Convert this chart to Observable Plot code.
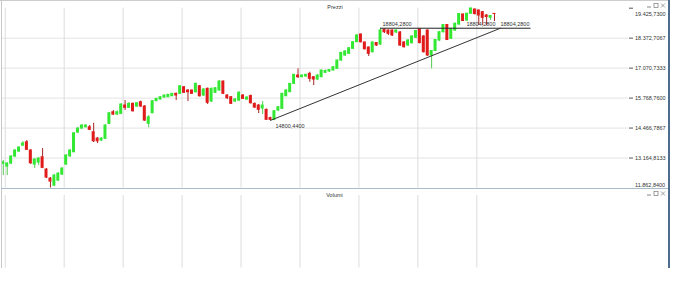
<!DOCTYPE html>
<html><head><meta charset="utf-8">
<script src="https://cdn.jsdelivr.net/npm/d3@7"></script>
<script src="https://cdn.jsdelivr.net/npm/@observablehq/plot@0.6"></script>
<style>
html,body{margin:0;padding:0;background:#fff;}
#wrap{position:relative;width:681px;height:283px;overflow:hidden;font-family:"Liberation Sans",Arial,sans-serif;}
#top,#bot{position:absolute;left:0;}
#top{top:0;} #bot{top:188px;}
.ln{position:absolute;}
.ic{position:absolute;left:645px;}
</style></head><body>
<div id="wrap">
  <div id="top"></div>
  <div id="bot"></div>
  <div class="ln" style="left:0;top:0;width:669px;height:1px;background:#cdcdcd"></div>
  <div class="ln" style="left:1px;top:0;width:1px;height:268px;background:#c8c8c8"></div>
  <div class="ln" style="left:668px;top:0;width:2px;height:268px;background:#4d6d8e"></div>
  <div class="ln" style="left:1px;top:188px;width:667px;height:1px;background:#a9bacb"></div>
  <svg class="ic" style="top:1px" width="22" height="8"><line x1="2" y1="6" x2="6" y2="6" stroke="#888" stroke-width="1"/><rect x="9" y="2.5" width="4" height="4" fill="none" stroke="#888" stroke-width="0.8"/><path d="M16 2.5L20 6.5M20 2.5L16 6.5" stroke="#888" stroke-width="0.8"/></svg>
  <svg class="ic" style="top:189px" width="22" height="8"><line x1="2" y1="6" x2="6" y2="6" stroke="#888" stroke-width="1"/><rect x="9" y="2.5" width="4" height="4" fill="none" stroke="#888" stroke-width="0.8"/><path d="M16 2.5L20 6.5M20 2.5L16 6.5" stroke="#888" stroke-width="0.8"/></svg>
</div>
<script>
// ---- data ----
const opens = [12911,12793,12924,13228,13445,13706,13850,13489,12880,12967,13198,12663,12272,11967,12185,12446,12880,13241,13415,14271,14445,14502,14502,14284,14011,13924,13998,14650,15154,15054,15084,15445,15345,15519,15402,15589,15402,14650,15110,15632,15706,15793,15806,15849,15954,15954,16241,16097,16097,16023,16284,15880,16171,15619,15997,16097,16488,15880,15806,15619,15662,15880,15706,15858,15519,15445,15315,15258,14901,14815,15228,15302,15849,16023,16388,16749,16675,16706,16823,16675,16575,16675,16867,16923,16967,17040,17401,17619,17692,17910,18197,18531,18184,17966,17762,18162,18097,18736,18705,18705,18618,18618,18184,18053,18153,18388,18749,18444,18705,17619,17814,18271,18631,18944,18345,18705,18966,19401,19140,19431,19618,19575,19501,19357,19257,19427];
const highs = [13054,12967,13272,13532,13663,13880,13924,13532,13141,13185,13576,12706,12315,12446,12533,12750,13315,13532,14271,14489,14619,14619,14576,14676,14054,14054,14619,15141,15228,15206,15532,15662,15576,15554,15576,15641,15445,15010,15662,15749,15836,15902,15923,15967,15988,16314,16271,16141,16119,16423,16314,16184,16206,16206,16228,16532,16510,15923,15836,15749,16053,15923,15836,15902,15554,15489,15619,15293,14936,15228,15402,15967,16141,16401,16793,17040,16771,16793,16893,16706,16793,16988,16988,17010,17140,17423,17749,17836,17966,18227,18531,18553,18205,17988,18205,18184,18804.28,18771,18727,18727,18727,18662,18227,18314,18488,18705,18771,18488,18727,17836,18314,18662,18966,18966,18790,19031,19444,19423,19466,19674.68,19640,19596,19531,19401,19357,19428];
const lows = [12402,12402,12880,13185,13402,13663,13489,12880,12706,12837,12706,12272,11862.84,11924,12141,12402,12837,13185,13402,14228,14402,14467,14358,13837,13793,13880,13967,14619,15010,15010,15054,15228,15315,15162,15358,15358,14749,14476,15097,15619,15684,15771,15793,15836,15662,15923,15967,15619,15923,15988,15815,15836,15489,15576,15967,16075,15923,15706,15489,15576,15619,15706,15662,15510,15315,15097,15054,14815,14800.44,14810,15184,15271,15836,16010,16358,16619,16662,16684,16458,16314,16532,16662,16836,16880,16945,17010,17358,17575,17662,17879,18184,18162,17858,17575,17727,18010,18053,18575,18488,18444,18575,18010,17945,18010,18118,18357,18118,17727,17575,17040,17792,18227,18597,18271,18314,18662,18923,19097,19097,19401,19379,18923,18923,18923,19140,19097];
const closes = [12980,12924,13228,13489,13619,13793,13519,12937,13098,13141,12737,12315,12141,12402,12489,12706,13272,13489,14241,14445,14576,14576,14389,13893,13893,14011,14576,15110,15054,15154,15489,15345,15519,15197,15545,15402,14793,14936,15632,15736,15806,15880,15910,15954,15880,16284,15997,16023,15954,16388,15849,16141,15562,16171,16197,16488,15954,15762,15519,15706,15997,15736,15793,15545,15358,15258,15445,14823,14823,15197,15371,15954,16097,16388,16780,16675,16749,16780,16606,16575,16749,16967,16945,16990,17110,17401,17736,17792,17936,18197,18488,18197,17892,17692,18184,18053,18705,18631,18562,18488,18705,18053,17979,18271,18444,18684,18162,17762,17619,17814,18292,18631,18944,18292,18779,18997,19423,19118,19431,19662,19423,19357,19257,19292,19336,19425.73];

// price axis: grid levels and extremes
const yMin = 11862.84, yMax = 19674.68;
const gridLevels = [13164.8133, 14466.7867, 15768.76, 17070.7333, 18372.7067];
const axisTicks = [13164.8133, 14466.7867, 15768.76, 17070.7333, 18372.7067, 19674.68];
// vertical period separators (candle index)
const periodLines = [0.5, 15.5, 30.5, 45.5, 60.5, 75.5, 90.5, 105.5, 120.5];

// annotations
const swingLowIndex = 68, swingLowValue = 14800.44;
const levelIndex = 96, levelValue = 18804.28, levelEndIndex = 134.3;
const trendEndIndex = 126.5;
const lastIndex = 125;

// ---- helpers ----
const loc = d3.formatLocale({decimal: ",", thousands: ".", grouping: [3], currency: ["", ""]});
const fmtAxis = loc.format(",.4f");
const fmtNote = loc.format(".4f");
const candles = opens.map((o, i) => ({i, open: o, high: highs[i], low: lows[i], close: closes[i]}));
const up = d => d.close >= d.open;
const xDomain = [-0.2, 159.1];
const FONT = "Liberation Sans, Arial, sans-serif";
const noteStyle = {y: levelValue, dy: -4, text: () => fmtNote(levelValue), fill: "#333"};

const topPlot = Plot.plot({
  width: 681, height: 190,
  marginLeft: 2, marginRight: 53, marginTop: 7.7, marginBottom: 2.5,
  x: {domain: xDomain, axis: null},
  y: {domain: [yMin, yMax], axis: null},
  color: {type: "identity"},
  style: {fontFamily: FONT, fontSize: "5.5px", color: "#333", background: "transparent", overflow: "visible"},
  marks: [
    Plot.ruleY(gridLevels, {stroke: "#e3e3e3", strokeWidth: 1}),
    Plot.ruleX(periodLines, {stroke: "#dcdcdc", strokeWidth: 1}),
    Plot.axisY({anchor: "right", ticks: axisTicks, tickSize: 4, tickPadding: 2.5,
      tickFormat: d => d >= yMax ? "" : fmtAxis(d), fontSize: 5.5, stroke: "#555"}),
    Plot.text([closes[closes.length - 1]], {y: d => d, frameAnchor: "right", textAnchor: "start", dx: 6.5, text: d => fmtAxis(d), fill: "#333"}),
    Plot.text([yMin], {y: d => d, frameAnchor: "right", textAnchor: "start", dx: 6.5, dy: -3.2, text: d => fmtAxis(d), fill: "#333"}),
    Plot.text(["Prezzi"], {frameAnchor: "top", dx: 19.5, dy: -3, fill: "#333"}),
    Plot.ruleX(candles, {x: "i", y1: "low", y2: "high", stroke: d => up(d) ? "#52cc52" : "#a82222", strokeWidth: 1}),
    Plot.rect(candles, {x1: d => d.i - 0.38, x2: d => d.i + 0.38,
      y1: d => Math.min(d.open, d.close), y2: d => Math.max(d.open, d.close),
      fill: d => up(d) ? "#33e833" : "#e11a1a", insetTop: -0.5, insetBottom: -0.5}),
    Plot.ruleY([levelValue], {x1: levelIndex, x2: levelEndIndex, stroke: "#222", strokeWidth: 1}),
    Plot.line([[swingLowIndex, swingLowValue], [trendEndIndex, levelValue]], {stroke: "#333", strokeWidth: 1}),
    Plot.text([swingLowValue], {x: swingLowIndex, y: d => d, textAnchor: "start", dx: 5, dy: 5.5, text: d => fmtNote(d), fill: "#333"}),
    Plot.text([levelIndex], {x: d => d, textAnchor: "start", dx: 2, ...noteStyle}),
    Plot.text([lastIndex], {x: d => d, textAnchor: "end", dx: 1, ...noteStyle}),
    Plot.text([trendEndIndex], {x: d => d, textAnchor: "start", dx: 0, ...noteStyle})
  ]
});
document.getElementById("top").append(topPlot);

const botPlot = Plot.plot({
  width: 681, height: 80,
  marginLeft: 2, marginRight: 53, marginTop: 7, marginBottom: 0.5,
  x: {domain: xDomain, axis: null},
  y: {domain: [0, 1], axis: null},
  style: {fontFamily: FONT, fontSize: "5.5px", color: "#333", background: "transparent", overflow: "visible"},
  marks: [
    Plot.ruleX(periodLines, {stroke: "#dcdcdc", strokeWidth: 1}),
    Plot.text(["Volumi"], {frameAnchor: "top", dx: 19, dy: -2.3, fill: "#333"})
  ]
});
document.getElementById("bot").append(botPlot);
</script>
</body></html>
